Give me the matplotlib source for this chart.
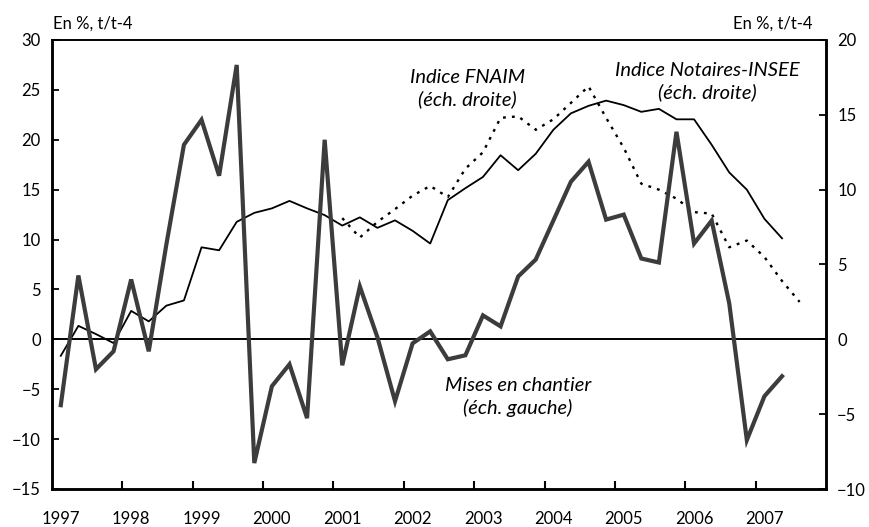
import numpy as np
import matplotlib
matplotlib.use("Agg")
import matplotlib.pyplot as plt

plt.rcParams["font.family"] = ["Lato", "DejaVu Sans"]

# quarterly series, 1997Q1 onwards (en %, t/t-4)
start_year = 1997
mises_chantier = [-6.6, 6.4, -3.0, -1.2, 6.0, -1.2, 9.5, 19.5, 22.0, 16.4,
                  27.5, -12.4, -4.7, -2.5, -7.9, 20.0, -2.6, 5.3, 0.2, -6.2,
                  -0.4, 0.8, -2.0, -1.6, 2.4, 1.3, 6.3, 8.0, 11.9, 15.8,
                  17.8, 12.0, 12.5, 8.1, 7.7, 20.8, 9.6, 11.9, 3.6, -10.1,
                  -5.7, -3.7]
notaires_insee = [-1.1, 0.9, 0.35, -0.25, 1.9, 1.2, 2.25, 2.6, 6.15, 5.95,
                  7.85, 8.45, 8.75, 9.25, 8.75, 8.3, 7.6, 8.15, 7.45, 7.95,
                  7.25, 6.4, 9.3, 10.1, 10.85, 12.3, 11.3, 12.4, 14.0, 15.1,
                  15.6, 15.95, 15.65, 15.2, 15.4, 14.7, 14.7, 13.0, 11.15,
                  10.0, 8.05, 6.75]
fnaim_start = 16  # 2001Q1
fnaim = [8.1, 6.8, 7.85, 8.7, 9.6, 10.25, 9.5, 11.4, 12.5, 14.8, 14.9, 14.0,
         14.7, 15.8, 16.9, 14.8, 12.8, 10.4, 10.0, 9.4, 8.5, 8.4, 6.15, 6.6,
         5.5, 3.9, 2.5]
years = list(range(1997, 2008))


def quarters(n, offset=0):
    i = np.arange(n) + offset
    return start_year + 0.125 + 0.25 * i


fig = plt.figure(figsize=(8.7, 5.27), dpi=100)
ax = fig.add_axes([52 / 870, 1 - 489 / 527, (826 - 52) / 870, (489 - 40) / 527])
ax2 = ax.twinx()

ax.axhline(0, color="black", lw=1.4, zorder=1)
ax.plot(quarters(len(mises_chantier)), mises_chantier, color="#3c3c3c",
        lw=3.0, solid_joinstyle="miter", zorder=3)
ax2.plot(quarters(len(notaires_insee)), notaires_insee, color="black", lw=1.3,
         zorder=2)
ax2.plot(quarters(len(fnaim), fnaim_start), fnaim, color="black", lw=1.7,
         linestyle=(0, (1.2, 2.6)), zorder=2)

ax.set_xlim(1997, 2008)
ax.set_ylim(-15, 30)
ax2.set_ylim(-10, 20)
ax.set_yticks(np.arange(-15, 31, 5))
ax2.set_yticks(np.arange(-10, 21, 5))

ax.set_xticks(range(1998, 2008))
ax.set_xticklabels([])
ax.set_xticks([y + 0.125 for y in years], [str(y) for y in years], minor=True)
ax.tick_params(axis="x", which="major", direction="in", length=6, width=1.5)
ax.tick_params(axis="x", which="minor", length=0, pad=16, labelsize=12)
ax.tick_params(axis="y", direction="in", length=5, width=1.3, pad=8,
               labelsize=12)
ax2.tick_params(axis="y", direction="in", length=5, width=1.3, pad=8,
                labelsize=12)

for a in (ax, ax2):
    for side in ("left", "right", "bottom"):
        a.spines[side].set_linewidth(1.8)
    a.spines["top"].set_linewidth(1.2)

ax.set_zorder(ax2.get_zorder() + 1)
ax.patch.set_visible(False)

fig.text(53 / 870, 1 - 24 / 527, "En %, t/t-4", fontsize=12, va="center",
         ha="left")
fig.text(813 / 870, 1 - 24 / 527, "En %, t/t-4", fontsize=12, va="center",
         ha="right")

lab = dict(fontsize=14.5, style="italic", ha="center", va="center",
           linespacing=1.3)
ax2.text(2002.9, 16.75, "Indice FNAIM\n(éch. droite)", **lab)
ax2.text(2006.32, 17.2, "Indice Notaires-INSEE\n(éch. droite)", **lab)
ax.text(2003.62, -5.8, "Mises en chantier\n(éch. gauche)", **lab)

fig.savefig("out.png", dpi=100)
